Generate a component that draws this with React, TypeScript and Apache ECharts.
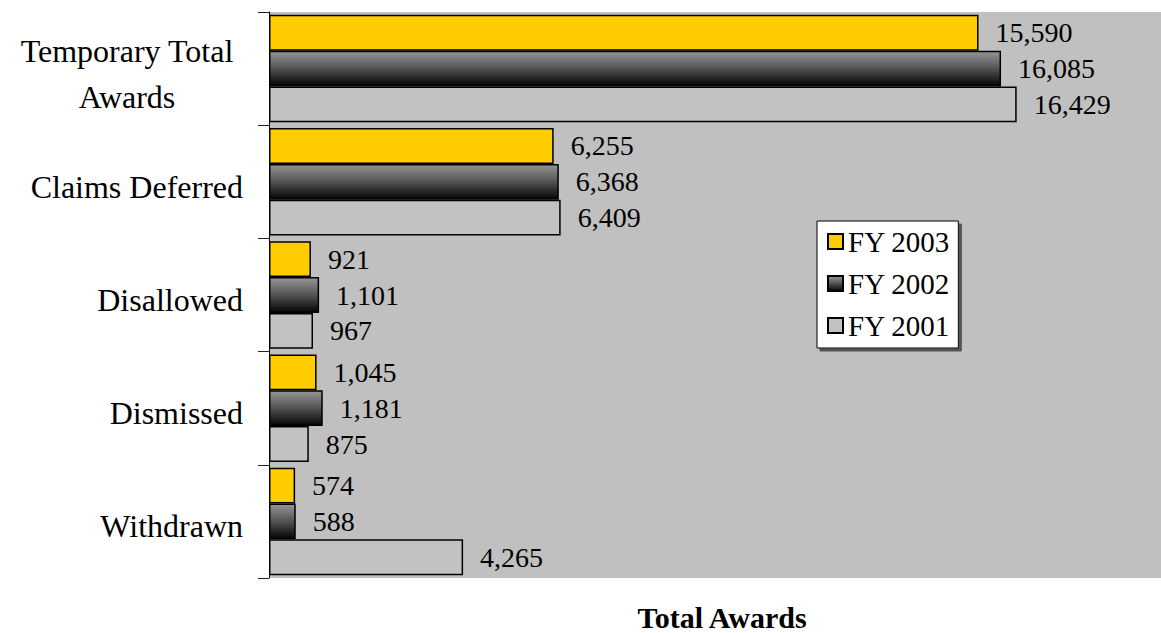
import React, { useEffect, useRef } from "react";
import * as echarts from "echarts";

const categories = ["Temporary Total Awards", "Claims Deferred", "Disallowed", "Dismissed", "Withdrawn"];
const seriesNames = ["FY 2003", "FY 2002", "FY 2001"];
const fy2003 = [15590, 6255, 921, 1045, 574];
const fy2002 = [16085, 6368, 1101, 1181, 588];
const fy2001 = [16429, 6409, 967, 875, 4265];

const FONT = "Liberation Serif";

export default function App() {
  const ref = useRef<HTMLDivElement>(null);
  useEffect(() => {
    if (!ref.current) return;
    const chart = echarts.init(ref.current, undefined, { renderer: "svg" });
    const fills: any[] = [
      "#FFCC00",
      new echarts.graphic.LinearGradient(0, 0, 0, 1, [
        { offset: 0, color: "#959595" },
        { offset: 0.45, color: "#5a5a5a" },
        { offset: 1, color: "#050505" },
      ]),
      "#c2c2c2",
    ];
    const data = [fy2003, fy2002, fy2001];
    const fmt = (v: number) => v.toLocaleString("en-US");
    chart.setOption({
      animation: false,
      backgroundColor: "#ffffff",
      textStyle: { fontFamily: FONT },
      grid: {
        left: 269,
        right: 0,
        top: 12,
        bottom: 55,
        outerBoundsMode: "none",
        containLabel: false,
        show: true,
        backgroundColor: "#c0c0c0",
        borderWidth: 0,
      },
      legend: {
        orient: "vertical",
        left: 817,
        top: 221,
        data: seriesNames,
        icon: "rect",
        itemWidth: 15,
        itemHeight: 15,
        itemGap: 13,
        padding: [6, 8, 8, 10],
        backgroundColor: "#ffffff",
        borderColor: "#000000",
        borderWidth: 1,
        shadowColor: "#555555",
        shadowBlur: 0,
        shadowOffsetX: 3,
        shadowOffsetY: 3,
        textStyle: { fontFamily: FONT, fontSize: 29, color: "#000" },
      },
      xAxis: {
        type: "value",
        min: 0,
        max: 19600,
        axisLine: { show: false },
        axisTick: { show: false },
        axisLabel: { show: false },
        splitLine: { show: false },
        name: "Total Awards",
        nameLocation: "middle",
        nameGap: 24,
        nameTextStyle: {
          fontFamily: FONT,
          fontSize: 30,
          fontWeight: "bold",
          color: "#000",
          padding: [0, 0, 0, 14],
        },
      },
      yAxis: {
        type: "category",
        inverse: true,
        data: categories,
        axisLine: { show: true, lineStyle: { color: "#000", width: 1 } },
        axisTick: { show: true, inside: false, length: 11, lineStyle: { color: "#222", width: 1 } },
        axisLabel: {
          margin: 26,
          fontFamily: FONT,
          fontSize: 32,
          color: "#000",
          padding: [10, 0, 0, 0],
          formatter: (v: string) =>
            v === "Temporary Total Awards" ? "{c|Temporary Total}\n{c|Awards}" : v,
          rich: {
            c: {
              fontFamily: FONT,
              fontSize: 32,
              color: "#000",
              width: 232,
              align: "center",
              lineHeight: 46,
            },
          },
        },
      },
      series: seriesNames.map((name, i) => ({
        name,
        type: "bar",
        data: data[i],
        barGap: "0%",
        barCategoryGap: "5%",
        itemStyle: { color: fills[i], borderColor: "#000", borderWidth: 1.5 },
        label: {
          show: true,
          position: "right",
          distance: 17,
          fontFamily: FONT,
          fontSize: 28,
          color: "#000",
          formatter: (p: any) => fmt(p.value),
        },
      })),
    });
    return () => chart.dispose();
  }, []);
  return (
    <div
      ref={ref}
      style={{ position: "absolute", left: 0, top: 0, width: 1161, height: 633 }}
    />
  );
}
